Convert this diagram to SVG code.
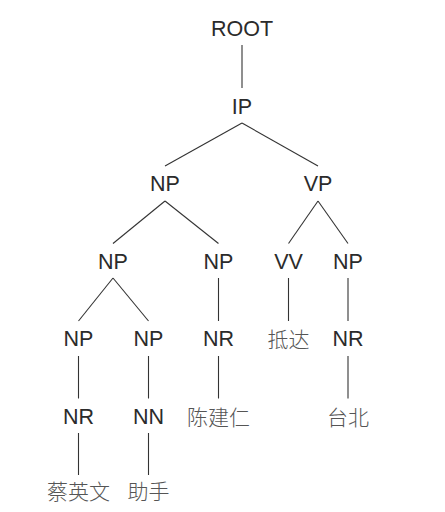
<svg xmlns="http://www.w3.org/2000/svg" width="445" height="512" viewBox="0 0 445 512">
<style>
.bg{fill:#fff}
text{font-family:"Liberation Sans",Arial,sans-serif;font-size:21.5px;fill:#2b2b2b;text-anchor:middle}
text.zh{font-family:"Noto Sans CJK SC","Liberation Sans",sans-serif;font-weight:300;fill:#555;font-size:21px}
#edges line{stroke:#333;stroke-width:1.1}
</style>
<rect class="bg" width="445" height="512"/>
<g id="edges">
<line x1="242" y1="45" x2="242" y2="88"/>
<line x1="242" y1="123" x2="165" y2="166"/>
<line x1="242" y1="123" x2="318" y2="166"/>
<line x1="165" y1="201" x2="113" y2="243.5"/>
<line x1="165" y1="201" x2="218.5" y2="243.5"/>
<line x1="318" y1="201" x2="288.5" y2="243.5"/>
<line x1="318" y1="201" x2="348" y2="243.5"/>
<line x1="113" y1="278" x2="78.5" y2="321"/>
<line x1="113" y1="278" x2="148.5" y2="321"/>
<line x1="218.5" y1="278" x2="218.5" y2="321"/>
<line x1="288.5" y1="278" x2="288.5" y2="321"/>
<line x1="348" y1="278" x2="348" y2="321"/>
<line x1="78.5" y1="356" x2="78.5" y2="398.5"/>
<line x1="148.5" y1="356" x2="148.5" y2="398.5"/>
<line x1="218.5" y1="356" x2="218.5" y2="398.5"/>
<line x1="348" y1="356" x2="348" y2="398.5"/>
<line x1="78.5" y1="433" x2="78.5" y2="475"/>
<line x1="148.5" y1="433" x2="148.5" y2="475"/>
</g>
<g id="n-root"><text x="242" y="36">ROOT</text></g>
<g id="n-ip"><text x="242" y="113.5">IP</text></g>
<g id="n-np1"><text x="165" y="191">NP</text></g>
<g id="n-vp"><text x="318" y="191">VP</text></g>
<g id="n-np2"><text x="113" y="268.5">NP</text></g>
<g id="n-np3"><text x="218.5" y="268.5">NP</text></g>
<g id="n-vv"><text x="288.5" y="268.5">VV</text></g>
<g id="n-np4"><text x="348" y="268.5">NP</text></g>
<g id="n-np5"><text x="78.5" y="346">NP</text></g>
<g id="n-np6"><text x="148.5" y="346">NP</text></g>
<g id="n-nr1"><text x="218.5" y="346">NR</text></g>
<g id="n-dida"><text class="zh" x="288.5" y="347">抵达</text></g>
<g id="n-nr2"><text x="348" y="346">NR</text></g>
<g id="n-nr3"><text x="78.5" y="423.5">NR</text></g>
<g id="n-nn"><text x="148.5" y="423.5">NN</text></g>
<g id="n-cjr"><text class="zh" x="218.5" y="424.5">陈建仁</text></g>
<g id="n-taibei"><text class="zh" x="348" y="424.5">台北</text></g>
<g id="n-tyw"><text class="zh" x="78.5" y="499">蔡英文</text></g>
<g id="n-zs"><text class="zh" x="148.5" y="499">助手</text></g>
</svg>
